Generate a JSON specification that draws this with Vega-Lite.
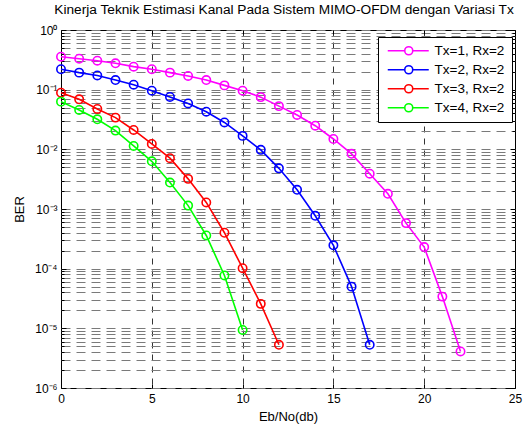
{
  "$schema": "https://vega.github.io/schema/vega-lite/v6.json",
  "autosize": {"type": "none"},
  "padding": {"left": 61, "top": 30, "right": 15, "bottom": 37},
  "width": 454,
  "height": 358,
  "background": "white",
  "config": {
    "font": "Liberation Sans",
    "view": {"stroke": "black", "strokeWidth": 1},
    "axis": {"labelFont": "Liberation Sans", "titleFont": "Liberation Sans", "labelColor": "black", "titleColor": "black", "titleFontWeight": "normal", "labelFontSize": 12, "titleFontSize": 13, "domainColor": "black", "tickColor": "black"}
  },
  "title": {"text": "Kinerja Teknik Estimasi Kanal Pada Sistem MIMO-OFDM dengan Variasi Tx", "fontSize": 13.7, "fontWeight": "normal", "font": "Liberation Sans", "color": "black", "offset": 7, "dx": -4, "anchor": "middle"},
  "data": {"values": [
    {"snr": 0, "ber": 0.357, "s": "Tx=1, Rx=2"}, {"snr": 1, "ber": 0.33, "s": "Tx=1, Rx=2"}, {"snr": 2, "ber": 0.306, "s": "Tx=1, Rx=2"}, {"snr": 3, "ber": 0.277, "s": "Tx=1, Rx=2"}, {"snr": 4, "ber": 0.243, "s": "Tx=1, Rx=2"}, {"snr": 5, "ber": 0.22, "s": "Tx=1, Rx=2"}, {"snr": 6, "ber": 0.193, "s": "Tx=1, Rx=2"}, {"snr": 7, "ber": 0.17, "s": "Tx=1, Rx=2"}, {"snr": 8, "ber": 0.145, "s": "Tx=1, Rx=2"}, {"snr": 9, "ber": 0.118, "s": "Tx=1, Rx=2"}, {"snr": 10, "ber": 0.096, "s": "Tx=1, Rx=2"}, {"snr": 11, "ber": 0.075, "s": "Tx=1, Rx=2"}, {"snr": 12, "ber": 0.053, "s": "Tx=1, Rx=2"}, {"snr": 13, "ber": 0.0377, "s": "Tx=1, Rx=2"}, {"snr": 14, "ber": 0.0249, "s": "Tx=1, Rx=2"}, {"snr": 15, "ber": 0.0149, "s": "Tx=1, Rx=2"}, {"snr": 16, "ber": 0.0084, "s": "Tx=1, Rx=2"}, {"snr": 17, "ber": 0.0039, "s": "Tx=1, Rx=2"}, {"snr": 18, "ber": 0.0018, "s": "Tx=1, Rx=2"}, {"snr": 19, "ber": 0.00058, "s": "Tx=1, Rx=2"}, {"snr": 20, "ber": 0.00023, "s": "Tx=1, Rx=2"}, {"snr": 21, "ber": 0.000034, "s": "Tx=1, Rx=2"}, {"snr": 22, "ber": 0.0000041, "s": "Tx=1, Rx=2"},
    {"snr": 0, "ber": 0.22, "s": "Tx=2, Rx=2"}, {"snr": 1, "ber": 0.193, "s": "Tx=2, Rx=2"}, {"snr": 2, "ber": 0.173, "s": "Tx=2, Rx=2"}, {"snr": 3, "ber": 0.145, "s": "Tx=2, Rx=2"}, {"snr": 4, "ber": 0.121, "s": "Tx=2, Rx=2"}, {"snr": 5, "ber": 0.096, "s": "Tx=2, Rx=2"}, {"snr": 6, "ber": 0.0755, "s": "Tx=2, Rx=2"}, {"snr": 7, "ber": 0.0587, "s": "Tx=2, Rx=2"}, {"snr": 8, "ber": 0.0427, "s": "Tx=2, Rx=2"}, {"snr": 9, "ber": 0.0282, "s": "Tx=2, Rx=2"}, {"snr": 10, "ber": 0.0168, "s": "Tx=2, Rx=2"}, {"snr": 11, "ber": 0.0098, "s": "Tx=2, Rx=2"}, {"snr": 12, "ber": 0.0048, "s": "Tx=2, Rx=2"}, {"snr": 13, "ber": 0.0021, "s": "Tx=2, Rx=2"}, {"snr": 14, "ber": 0.00077, "s": "Tx=2, Rx=2"}, {"snr": 15, "ber": 0.000246, "s": "Tx=2, Rx=2"}, {"snr": 16, "ber": 0.00005, "s": "Tx=2, Rx=2"}, {"snr": 17, "ber": 0.0000053, "s": "Tx=2, Rx=2"},
    {"snr": 0, "ber": 0.089, "s": "Tx=3, Rx=2"}, {"snr": 1, "ber": 0.069, "s": "Tx=3, Rx=2"}, {"snr": 2, "ber": 0.0475, "s": "Tx=3, Rx=2"}, {"snr": 3, "ber": 0.034, "s": "Tx=3, Rx=2"}, {"snr": 4, "ber": 0.0211, "s": "Tx=3, Rx=2"}, {"snr": 5, "ber": 0.0123, "s": "Tx=3, Rx=2"}, {"snr": 6, "ber": 0.0071, "s": "Tx=3, Rx=2"}, {"snr": 7, "ber": 0.0032, "s": "Tx=3, Rx=2"}, {"snr": 8, "ber": 0.00129, "s": "Tx=3, Rx=2"}, {"snr": 9, "ber": 0.0004, "s": "Tx=3, Rx=2"}, {"snr": 10, "ber": 0.000102, "s": "Tx=3, Rx=2"}, {"snr": 11, "ber": 0.0000257, "s": "Tx=3, Rx=2"}, {"snr": 12, "ber": 0.0000053, "s": "Tx=3, Rx=2"},
    {"snr": 0, "ber": 0.063, "s": "Tx=4, Rx=2"}, {"snr": 1, "ber": 0.0457, "s": "Tx=4, Rx=2"}, {"snr": 2, "ber": 0.0319, "s": "Tx=4, Rx=2"}, {"snr": 3, "ber": 0.0206, "s": "Tx=4, Rx=2"}, {"snr": 4, "ber": 0.0114, "s": "Tx=4, Rx=2"}, {"snr": 5, "ber": 0.0063, "s": "Tx=4, Rx=2"}, {"snr": 6, "ber": 0.00277, "s": "Tx=4, Rx=2"}, {"snr": 7, "ber": 0.00114, "s": "Tx=4, Rx=2"}, {"snr": 8, "ber": 0.00036, "s": "Tx=4, Rx=2"}, {"snr": 9, "ber": 0.000077, "s": "Tx=4, Rx=2"}, {"snr": 10, "ber": 0.0000094, "s": "Tx=4, Rx=2"}
  ]},
  "encoding": {
    "x": {"field": "snr", "type": "quantitative", "axis": null, "scale": {"domain": [0, 25], "nice": false, "zero": false}},
    "y": {"field": "ber", "type": "quantitative", "axis": null, "scale": {"type": "log", "domain": [0.000001, 1], "nice": false}},
    "color": {"field": "s", "type": "nominal", "scale": {"domain": ["Tx=1, Rx=2", "Tx=2, Rx=2", "Tx=3, Rx=2", "Tx=4, Rx=2"], "range": ["#ff00ff", "#0000ff", "#ff0000", "#00ff00"]}}
  },
  "layer": [
    {
      "mark": {"type": "line", "strokeWidth": 1.6, "clip": true},
      "encoding": {
        "x": {"field": "snr", "type": "quantitative", "title": "Eb/No(db)",
          "axis": {"orient": "bottom", "values": [0, 5, 10, 15, 20, 25], "grid": true, "gridColor": "black", "gridDash": [6, 6], "gridWidth": 0.8, "gridOpacity": 1, "tickSize": -4, "labelPadding": 9, "titlePadding": 6, "domain": false, "labelFlush": false}},
        "y": {"field": "ber", "type": "quantitative", "title": "BER",
          "axis": {"orient": "left", "values": [0.000001,0.000002,0.000003,0.000004,0.000005,0.000006,0.000007,0.000008,0.000009,0.00001,0.00002,0.00003,0.00004,0.00005,0.00006,0.00007,0.00008,0.00009,0.0001,0.0002,0.0003,0.0004,0.0005,0.0006,0.0007,0.0008,0.0009,0.001,0.002,0.003,0.004,0.005,0.006,0.007,0.008,0.009,0.01,0.02,0.03,0.04,0.05,0.06,0.07,0.08,0.09,0.1,0.2,0.3,0.4,0.5,0.6,0.7,0.8,0.9,1],
            "labelExpr": "abs(log(datum.value)/LN10 - round(log(datum.value)/LN10)) < 0.001 ? ['10⁰','10⁻¹','10⁻²','10⁻³','10⁻⁴','10⁻⁵','10⁻⁶'][-round(log(datum.value)/LN10)] : ''",
            "grid": true, "gridColor": "#7a7a7a", "gridDash": [9, 6], "gridWidth": 1, "gridOpacity": 1,
            "tickSize": {"condition": {"test": "abs(log(datum.value)/LN10 - round(log(datum.value)/LN10)) < 0.001", "value": -5}, "value": -3},
            "labelPadding": 9, "titlePadding": 8, "labelOverlap": false, "labelFlush": false, "domain": false}}
      }
    },
    {
      "mark": {"type": "point", "shape": "circle", "filled": false, "size": 70, "strokeWidth": 1.6, "opacity": 1},
      "encoding": {
        "color": {"field": "s", "type": "nominal", "title": null,
          "legend": {"orient": "none", "legendX": 317, "legendY": 7, "title": null, "strokeColor": "black", "fillColor": "white", "padding": 7, "labelFontSize": 13.5, "labelFont": "Liberation Sans", "labelColor": "black", "symbolType": "M-0.8,0H2.6M4.2,0H7.4M2.6,0A0.8,0.8 0 1,0 4.2,0A0.8,0.8 0 1,0 2.6,0", "symbolSize": 100, "symbolStrokeWidth": 1.6, "symbolFillColor": "transparent", "rowPadding": 4, "labelOffset": 36}}
      }
    },
    {
      "mark": {"type": "point", "opacity": 0},
      "encoding": {
        "x": {"field": "snr", "type": "quantitative", "axis": {"orient": "top", "values": [0, 5, 10, 15, 20, 25], "labels": false, "title": null, "tickSize": -4, "grid": false, "domain": false}},
        "y": {"field": "ber", "type": "quantitative", "axis": {"orient": "right", "values": [0.000001,0.000002,0.000003,0.000004,0.000005,0.000006,0.000007,0.000008,0.000009,0.00001,0.00002,0.00003,0.00004,0.00005,0.00006,0.00007,0.00008,0.00009,0.0001,0.0002,0.0003,0.0004,0.0005,0.0006,0.0007,0.0008,0.0009,0.001,0.002,0.003,0.004,0.005,0.006,0.007,0.008,0.009,0.01,0.02,0.03,0.04,0.05,0.06,0.07,0.08,0.09,0.1,0.2,0.3,0.4,0.5,0.6,0.7,0.8,0.9,1], "labels": false, "title": null, "tickSize": {"condition": {"test": "abs(log(datum.value)/LN10 - round(log(datum.value)/LN10)) < 0.001", "value": -5}, "value": -3}, "grid": false, "domain": false}}
      }
    }
  ],
  "resolve": {"axis": {"x": "independent", "y": "independent"}}
}
